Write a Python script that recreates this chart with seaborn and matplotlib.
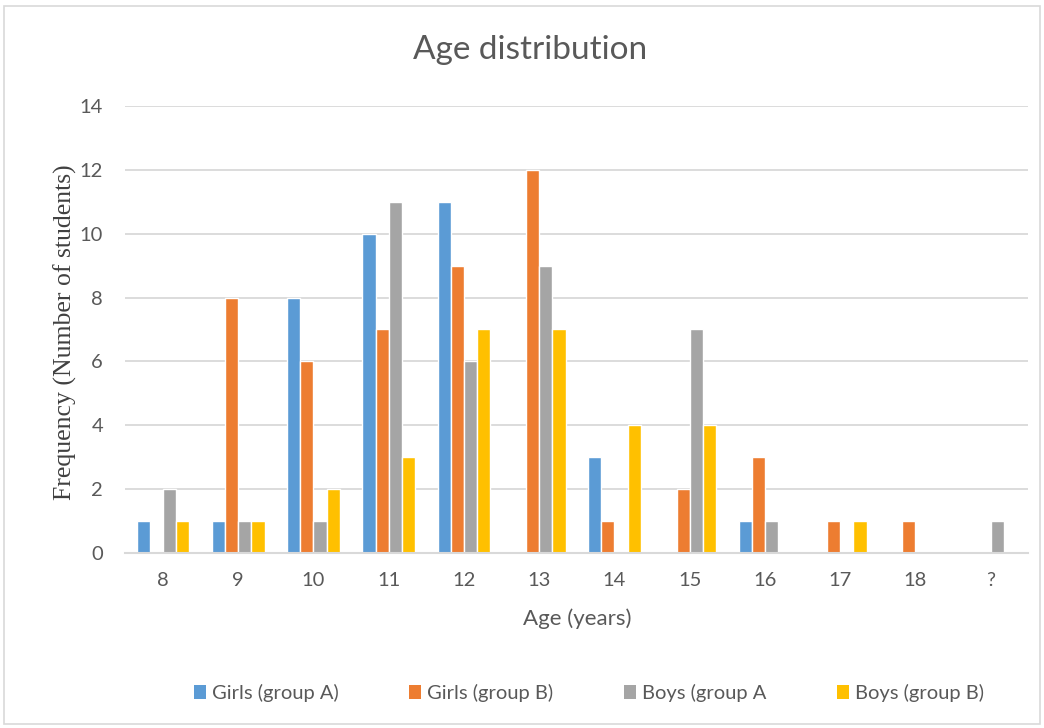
import matplotlib
matplotlib.use("Agg")
import matplotlib.pyplot as plt
from matplotlib.patches import Rectangle, Patch
import seaborn as sns
import pandas as pd

ages = ["8", "9", "10", "11", "12", "13", "14", "15", "16", "17", "18", "?"]
girls_a = [1, 1, 8, 10, 11, 0, 3, 0, 1, 0, 0, 0]
girls_b = [0, 8, 6, 7, 9, 12, 1, 2, 3, 1, 1, 0]
boys_a = [2, 1, 1, 11, 6, 9, 0, 7, 1, 0, 0, 1]
boys_b = [1, 1, 2, 3, 7, 7, 4, 4, 0, 1, 0, 0]
series_names = ["Girls (group A)", "Girls (group B)", "Boys (group A", "Boys (group B)"]
colors = ["#5B9BD5", "#ED7D31", "#A5A5A5", "#FFC000"]

rows = []
for name, vals in zip(series_names, [girls_a, girls_b, boys_a, boys_b]):
    for age, v in zip(ages, vals):
        rows.append({"Age": age, "Count": v, "Group": name})
df = pd.DataFrame(rows)

sns.set_theme(style="white")
plt.rcParams["font.family"] = ["Lato", "DejaVu Sans"]

fig = plt.figure(figsize=(10.44, 7.28), dpi=100)
ax = fig.add_axes([0.12, 0.2404, 0.865, 0.614])

sns.barplot(data=df, x="Age", y="Count", hue="Group", order=ages,
            hue_order=series_names, palette=colors, saturation=1, width=0.7,
            edgecolor="white", linewidth=1, ax=ax, legend=False)

text_color = "#595959"
ax.set_ylim(0, 14)
ax.set_yticks(range(0, 15, 2))
ax.yaxis.grid(True, color="#D9D9D9", linewidth=1.3)
ax.set_axisbelow(True)
for side in ["top", "right", "left"]:
    ax.spines[side].set_visible(False)
ax.spines["bottom"].set_color("#D9D9D9")
ax.spines["bottom"].set_linewidth(1.5)
ax.tick_params(axis="both", length=0, labelsize=14.5, labelcolor=text_color)
ax.tick_params(axis="y", pad=16)
ax.tick_params(axis="x", pad=14)
ax.set_xlim(-0.5, len(ages) - 0.5)

ax.set_xlabel("Age (years)", fontsize=16, color=text_color, labelpad=14)
ax.set_ylabel("Frequency (Number of students)", fontsize=18.5, color="#404040",
              family="Liberation Serif")
ax.yaxis.set_label_coords(-0.054, 0.494)
fig.text(0.508, 0.932, "Age distribution", ha="center", va="center",
         fontsize=24, color=text_color)

handles = [Patch(facecolor=c, edgecolor="none") for c in colors]
fig.legend(handles, series_names, loc="center", bbox_to_anchor=(0.564, 0.048),
           ncol=4, frameon=False, fontsize=14.5, labelcolor=text_color,
           handlelength=0.6, handleheight=0.7, handletextpad=0.3,
           columnspacing=3.5)

fig.patches.append(Rectangle((0.004, 0.006), 0.992, 0.986, transform=fig.transFigure,
                             fill=False, edgecolor="#D9D9D9", linewidth=1.2))

fig.savefig("out.png", dpi=100, facecolor="white")
